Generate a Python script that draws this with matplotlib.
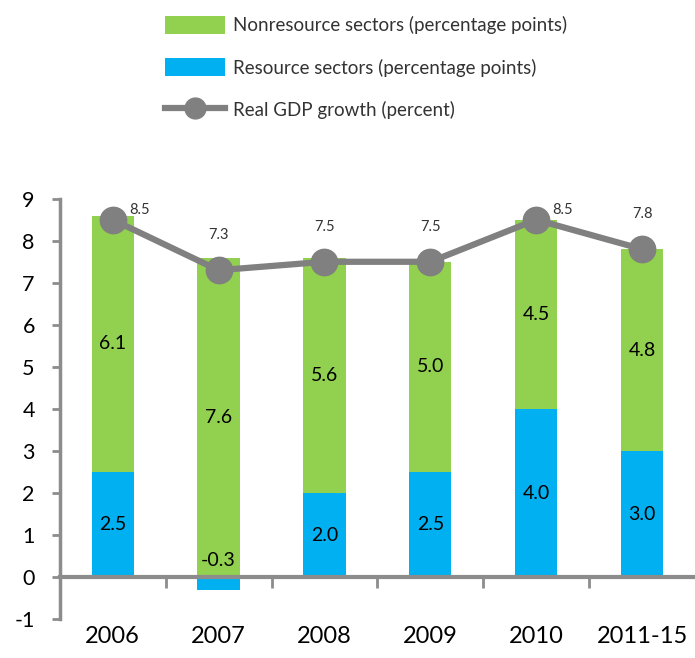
import matplotlib
matplotlib.use("Agg")
import matplotlib.pyplot as plt
from matplotlib.patches import Patch
from matplotlib.lines import Line2D
import numpy as np

# data
years = ['2006', '2007', '2008', '2009', '2010', '2011-15']
resource = [2.5, -0.3, 2.0, 2.5, 4.0, 3.0]
nonresource = [6.1, 7.6, 5.6, 5.0, 4.5, 4.8]
gdp = [8.5, 7.3, 7.5, 7.5, 8.5, 7.8]

green = '#92D050'
blue = '#00B0F0'
grey = '#808080'
axcol = '#8C8C8C'

plt.rcParams['font.family'] = ['Lato', 'DejaVu Sans']
plt.rcParams['axes.unicode_minus'] = False

fig = plt.figure(figsize=(6.95, 6.58), dpi=100)
ax = fig.add_axes([0.086, 0.059, 0.914, 0.639])

x = np.arange(len(years))
res = np.array(resource)
nonres = np.array(nonresource)
width = 0.4

# blue from zero, green stacked on the positive part
ax.bar(x, res, width, color=blue, zorder=2)
ax.bar(x, nonres, width, bottom=np.maximum(res, 0), color=green, zorder=2)

# GDP growth line
ax.plot(x, gdp, color=grey, lw=4.5, marker='o', markersize=19,
        solid_capstyle='round', zorder=4, clip_on=False)

# segment labels
for i in range(len(years)):
    r = res[i]
    n = nonres[i]
    if r >= 0:
        ax.text(x[i], r / 2, f'{r:.1f}', ha='center', va='center', fontsize=14, zorder=3)
        ax.text(x[i], r + n / 2, f'{n:.1f}', ha='center', va='center', fontsize=14, zorder=3)
    else:
        ax.annotate(f'{r:.1f}', (x[i], 0), xytext=(0, 12), textcoords='offset points',
                    ha='center', va='center', fontsize=14, zorder=3)
        ax.text(x[i], n / 2, f'{n:.1f}', ha='center', va='center', fontsize=14, zorder=3)

# GDP labels above the markers (shifted right when there is no room)
for i, g in enumerate(gdp):
    if g + 0.8 > 9:
        off = (19, 7)
    else:
        off = (0, 25)
    ax.annotate(f'{g:.1f}', (x[i], g), xytext=off, textcoords='offset points',
                ha='center', va='center', fontsize=10.5, color='#333333')

# axes styling
ax.set_xlim(-0.5, len(years) - 0.5)
ax.set_ylim(-1, 9)
ax.set_yticks(range(-1, 10))
ax.tick_params(axis='y', labelsize=15.5, length=6, width=2, color=axcol, pad=12)

ax.spines['top'].set_visible(False)
ax.spines['right'].set_visible(False)
ax.spines['left'].set_color(axcol)
ax.spines['left'].set_linewidth(2.5)
ax.spines['bottom'].set_position(('data', 0))
ax.spines['bottom'].set_color(axcol)
ax.spines['bottom'].set_linewidth(3)

ax.set_xticks(x)
ax.set_xticklabels(years)
ax.set_xticks(np.arange(0.5, len(years) - 0.5), minor=True)
ax.tick_params(axis='x', which='major', length=0, labelsize=17, pad=35)
ax.tick_params(axis='x', which='minor', length=8, width=2, color=axcol)

# legend
handles = [Patch(facecolor=green, edgecolor='none'),
           Patch(facecolor=blue, edgecolor='none'),
           Line2D([0], [0], color=grey, lw=4.5, marker='o', markersize=15)]
labels = ['Nonresource sectors (percentage points)',
          'Resource sectors (percentage points)',
          'Real GDP growth (percent)']
fig.legend(handles, labels, loc='upper left', bbox_to_anchor=(0.237, 0.976),
           frameon=False, fontsize=13.5, handlelength=3.2, handleheight=1.15,
           handletextpad=0.45, labelspacing=1.25, borderpad=0, borderaxespad=0,
           labelcolor='#333333')

fig.savefig('out.png', dpi=100)
